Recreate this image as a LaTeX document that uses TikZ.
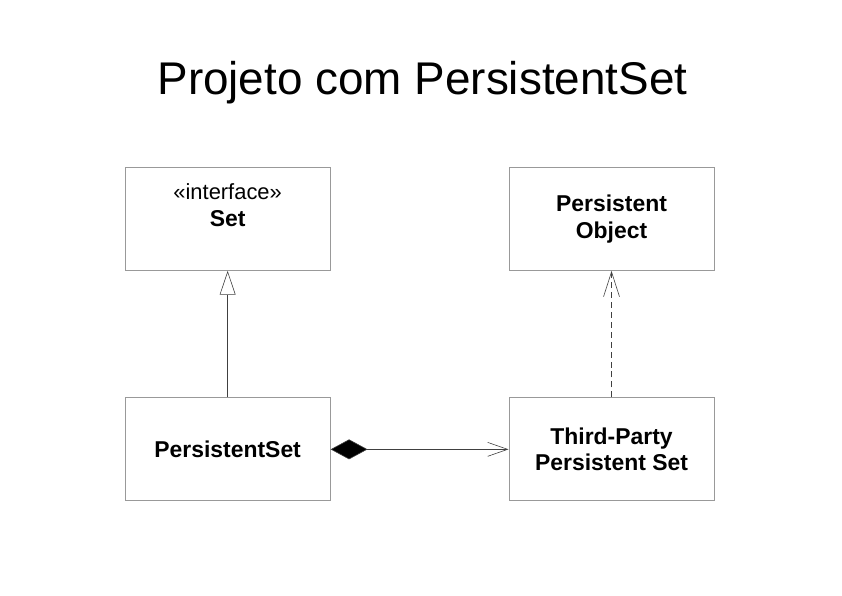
\documentclass[tikz,border=0pt]{standalone}
\usepackage{fontspec}
\setmainfont{Liberation Sans}
\usepackage{tikz}
\usetikzlibrary{arrows.meta,shapes}

\begin{document}
\begin{tikzpicture}[-, class node/.style={rectangle, draw=black!40, line width=1pt, minimum width=7.23cm, minimum height=3.63cm, align=center, font=\fontsize{23}{27}\selectfont\bfseries}, link/.style={draw=black!75, line width=0.6pt}]
\useasboundingbox (0,0) rectangle (29.7,21);
\node[font=\fontsize{46}{54}\selectfont] (title) at (14.9,18.1) {Projeto com PersistentSet};
\node[class node] (1) at (8.03,13.28) {{\mdseries\fontsize{22}{27}\selectfont «interface»}\\Set\\\mbox{}};
\node[class node] (2) at (21.57,13.28) {Persistent\\Object};
\node[class node] (3) at (8.03,5.15) {PersistentSet};
\node[class node] (4) at (21.57,5.15) {Third-Party\\Persistent Set};
\path[link]
(3) edge[-{Triangle[open,length=24pt,width=16pt]}] (1)
(4) edge[dash pattern=on 6pt off 4pt, -{Straight Barb[length=25pt,width=16pt]}] (2)
(3) edge[{Diamond[length=37pt,width=20pt,fill=black]}-{Straight Barb[length=20pt,width=14pt]}] (4);
\end{tikzpicture}
\end{document}
